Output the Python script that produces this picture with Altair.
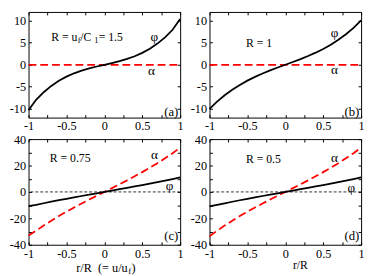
import altair as alt
import pandas as pd

# ---------------- data ----------------
r = [-1.0, -0.9, -0.8, -0.7, -0.6, -0.5, -0.4, -0.3, -0.2, -0.1, 0.0,
     0.1, 0.2, 0.3, 0.4, 0.5, 0.6, 0.7, 0.8, 0.9, 1.0]

phi_a = [-10.3, -7.95, -6.24, -4.81, -3.65, -2.70, -1.94, -1.33, -0.82, -0.39, 0.0,
         0.39, 0.82, 1.33, 1.94, 2.70, 3.65, 4.81, 6.24, 7.95, 10.4]
alpha_a = [0.0] * 21

phi_b = [-10.0, -8.36, -6.93, -5.67, -4.57, -3.60, -2.75, -1.98, -1.28, -0.63, 0.0,
         0.63, 1.28, 1.98, 2.75, 3.60, 4.57, 5.67, 6.93, 8.36, 10.1]
alpha_b = [0.0] * 21

phi_c = [-10.7, -9.76, -8.57, -7.41, -6.29, -5.20, -4.13, -3.08, -2.05, -1.02, 0.0,
         1.02, 2.05, 3.08, 4.13, 5.20, 6.29, 7.41, 8.57, 9.76, 11.0]
alpha_c = [-33.0, -29.35, -25.45, -21.77, -18.30, -14.99, -11.82, -8.77, -5.80, -2.89, 0.0,
           2.89, 5.80, 8.77, 11.82, 14.99, 18.30, 21.77, 25.45, 29.35, 33.5]

phi_d = [-11.0, -9.80, -8.60, -7.43, -6.30, -5.20, -4.13, -3.08, -2.05, -1.02, 0.0,
         1.02, 2.05, 3.08, 4.13, 5.20, 6.29, 7.41, 8.57, 9.76, 11.0]
alpha_d = [-33.5, -29.4, -25.5, -21.8, -18.3, -15.0, -11.8, -8.77, -5.80, -2.89, 0.0,
           2.89, 5.80, 8.77, 11.82, 14.99, 18.30, 21.77, 25.45, 29.35, 33.5]

x_ticks = [-1.0, -0.75, -0.5, -0.25, 0.0, 0.25, 0.5, 0.75, 1.0]
y_ticks_top = [-10, -5, 0, 5, 10]
y_ticks_bottom = [-40, -30, -20, -10, 0, 10, 20, 30, 40]

FONT = "Liberation Serif"
W, H = 155, 108
NB = "\u00a0"


def lab_expr(step):
    return (f"abs(datum.value/{step} - round(datum.value/{step})) < 0.001 ? "
            "((datum.value < -1e-9 ? '-' : '') + format(abs(datum.value), '~g')) : ''")


def axis(orient, values, step=None, pad=2):
    kw = dict(orient=orient, values=values, offset=-3, tickSize=3, domain=False,
              grid=False, title=None, tickColor="black", tickWidth=1)
    if step is None:
        kw["labels"] = False
    else:
        kw.update(labelExpr=lab_expr(step), labelFont=FONT, labelFontSize=12.5,
                  labelColor="black", labelFlush=False, labelOverlap=False,
                  labelPadding=pad)
    return alt.Axis(**kw)


def text_layer(x, y, txt, scx, scy, size=12.5, align="left", dx=0, dy=0, color="black"):
    df = pd.DataFrame({"x": [x], "y": [y]})
    return alt.Chart(df).mark_text(text=txt, font=FONT, fontSize=size, align=align,
                                   baseline="middle", dx=dx, dy=dy, color=color).encode(
        x=alt.X("x:Q", scale=scx, axis=None),
        y=alt.Y("y:Q", scale=scy, axis=None))


def panel(phi, alpha, ydom, yticks, ystep, rtexts, phipos, alphapos, tag, tagy,
          zero=False, extra=None, xpad=2):
    df = pd.DataFrame({"r": r, "phi": phi, "alpha": alpha})
    sx = alt.Scale(domain=[-1, 1], nice=False, zero=False)
    sy = alt.Scale(domain=ydom, nice=False, zero=False)
    layers = []
    if zero:
        layers.append(alt.Chart(pd.DataFrame({"z": [0]})).mark_rule(
            color="black", strokeWidth=0.8, strokeDash=[3, 2]).encode(
            y=alt.Y("z:Q", scale=sy, axis=None)))
    layers.append(alt.Chart(df).mark_line(color="red", strokeWidth=1.8, strokeDash=[8, 4]).encode(
        x=alt.X("r:Q", scale=sx, axis=axis("top", x_ticks)),
        y=alt.Y("alpha:Q", scale=sy, axis=axis("right", yticks))))
    layers.append(alt.Chart(df).mark_line(color="black", strokeWidth=1.8).encode(
        x=alt.X("r:Q", scale=sx, axis=axis("bottom", x_ticks, 0.5, pad=xpad)),
        y=alt.Y("phi:Q", scale=sy, axis=axis("left", yticks, ystep, pad=3))))
    rx, ry, pieces = rtexts
    for txt, dx, dy, size in pieces:
        layers.append(text_layer(rx, ry, txt, sx, sy, size=size, dx=dx, dy=dy))
    layers.append(text_layer(phipos[0], phipos[1], "φ", sx, sy, size=13.5, align="center"))
    layers.append(text_layer(alphapos[0], alphapos[1], "α", sx, sy, size=13.5, align="center"))
    layers.append(text_layer(0.975, tagy, tag, sx, sy, size=13, align="right"))
    if extra:
        ex, ey, pcs = extra
        for txt, dx, dy, size in pcs:
            layers.append(text_layer(ex, ey, txt, sx, sy, size=size, dx=dx, dy=dy))
    return alt.layer(*layers).resolve_axis(x="independent", y="independent").properties(
        width=W, height=H)


pa = panel(phi_a, alpha_a, [-12, 12], y_ticks_top, 5,
           (-0.70, 6.2, [("R = u", 0, 0, 12), ("f", 27, 3, 8.5), (NB + "/C", 29.5, 0, 12),
                          ("1", 44, 3, 8.5), (NB + "= 1.5", 48.5, 0, 12)]),
           (0.66, 6.3), (0.62, -1.5), "(a)", -10.8)
pb = panel(phi_b, alpha_b, [-12, 12], y_ticks_top, 5,
           (-0.52, 4.9, [("R = 1", 0, 0, 12)]),
           (0.65, 7.1), (0.65, -1.3), "(b)", -10.8)
pc = panel(phi_c, alpha_c, [-40, 40], y_ticks_bottom, 20,
           (-0.72, 25.5, [("R = 0.75", 0, 0, 12)]),
           (0.86, 4.4), (0.66, 27.6), "(c)", -33.5, zero=True, xpad=3,
           extra=(-0.37, -57.5, [("r/R" + NB + NB + "(= u/u", 0, 0, 12.5), ("f", 53, 3, 9),
                                 (")", 56.5, 0, 12.5)]))
pd_ = panel(phi_d, alpha_d, [-40, 40], y_ticks_bottom, 20,
            (-0.52, 24.7, [("R = 0.5", 0, 0, 12)]),
            (0.87, 3.0), (0.65, 25.5), "(d)", -33.5, zero=True, xpad=3,
            extra=(0.10, -55.5, [("r/R", 0, 0, 12)]))

chart = alt.concat(pa, pb, pc, pd_, columns=2, bounds="flush",
                   spacing=alt.RowColnumber(row=22, column=30)).properties(
    padding=0).configure_view(stroke="black", strokeWidth=1)

chart.save("out.html", embed_options={"renderer": "svg", "actions": False})
